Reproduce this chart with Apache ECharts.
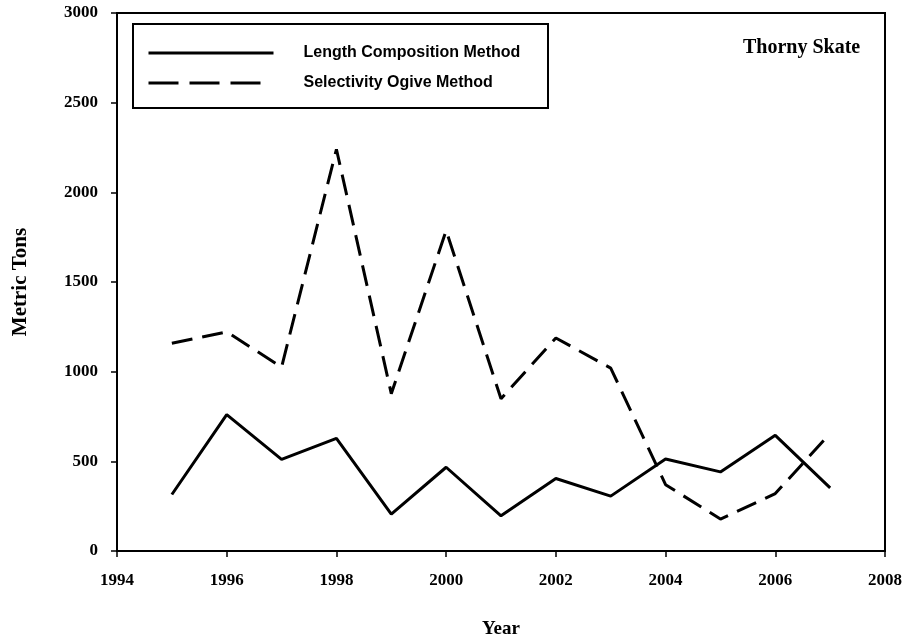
<!DOCTYPE html>
<html>
<head>
<meta charset="utf-8">
<title>Thorny Skate</title>
<script src="https://cdn.jsdelivr.net/npm/echarts@6/dist/echarts.min.js"></script>
<style>
  html, body { margin: 0; padding: 0; background: #fff; }
  #main { width: 909px; height: 642px; }
</style>
</head>
<body>
<div id="main"></div>
<script>
// 年份
const years = [1995, 1996, 1997, 1998, 1999, 2000, 2001, 2002, 2003, 2004, 2005, 2006, 2007];
// Length Composition Method
const lengthComp = [315, 760, 511, 628, 206, 467, 196, 404, 306, 513, 441, 645, 352];
// Selectivity Ogive Method
const selectivity = [1158, 1222, 1025, 2240, 877, 1787, 849, 1188, 1020, 370, 178, 320, 656];

const serif = "'Liberation Serif', 'Times New Roman', serif";
const sans = "'Liberation Sans', Arial, sans-serif";

const chart = echarts.init(document.getElementById("main"));
chart.setOption({
  animation: false,
  backgroundColor: "#fff",
  title: {
    text: "Thorny Skate",
    left: 738,
    top: 33,
    textStyle: { fontFamily: serif, fontWeight: "bold", fontSize: 20, color: "#000" },
  },
  legend: {
    orient: "vertical",
    left: 147,
    top: 45,
    padding: 0,
    itemWidth: 125,
    itemHeight: 14,
    itemGap: 14,
    itemStyle: { opacity: 0 }, // 只显示线, 不要圆点
    lineStyle: { width: 3 },
    textStyle: {
      fontFamily: sans,
      fontWeight: "bold",
      fontSize: 16,
      color: "#000",
      padding: [0, 0, 0, 25],
    },
    data: [
      { name: "Length Composition Method" },
      { name: "Selectivity Ogive Method", lineStyle: { width: 3, type: [30, 11, 30, 11, 30, 100] } },
    ],
  },
  // 图例外框
  graphic: [
    {
      type: "rect",
      shape: { x: 133, y: 24, width: 415, height: 84 },
      style: { fill: "none", stroke: "#000", lineWidth: 2 },
      z: 10,
    },
  ],
  grid: {
    left: 117,
    right: 24,
    top: 13,
    bottom: 91,
    outerBoundsMode: "none",
    show: true,
    borderColor: "#000",
    borderWidth: 2,
  },
  xAxis: {
    type: "value",
    min: 1994,
    max: 2008,
    interval: 2,
    name: "Year",
    nameLocation: "middle",
    nameGap: 69,
    nameTextStyle: { fontFamily: serif, fontWeight: "bold", fontSize: 19, color: "#000" },
    axisLine: { lineStyle: { color: "#000", width: 2 } },
    axisTick: { show: true, length: 6, lineStyle: { color: "#000", width: 1.5 } },
    axisLabel: {
      margin: 21,
      fontFamily: serif,
      fontWeight: "bold",
      fontSize: 17,
      color: "#000",
      formatter: (v) => String(v),
    },
    splitLine: { show: false },
  },
  yAxis: {
    type: "value",
    min: 0,
    max: 3000,
    interval: 500,
    name: "Metric Tons",
    nameLocation: "middle",
    nameRotate: 90,
    nameGap: 86,
    nameTextStyle: { fontFamily: serif, fontWeight: "bold", fontSize: 21, color: "#000" },
    axisLine: { show: true, lineStyle: { color: "#000", width: 2 } },
    axisTick: { show: true, length: 6, lineStyle: { color: "#000", width: 1.5 } },
    axisLabel: {
      margin: 19,
      fontFamily: serif,
      fontWeight: "bold",
      fontSize: 17,
      color: "#000",
      formatter: (v) => String(v),
    },
    splitLine: { show: false },
  },
  series: [
    {
      name: "Length Composition Method",
      type: "line",
      symbol: "none",
      lineStyle: { color: "#000", width: 3 },
      itemStyle: { color: "#000" },
      data: years.map((y, i) => [y, lengthComp[i]]),
    },
    {
      name: "Selectivity Ogive Method",
      type: "line",
      symbol: "none",
      lineStyle: { color: "#000", width: 3, type: [21, 10] },
      itemStyle: { color: "#000" },
      data: years.map((y, i) => [y, selectivity[i]]),
    },
  ],
});
</script>
</body>
</html>
